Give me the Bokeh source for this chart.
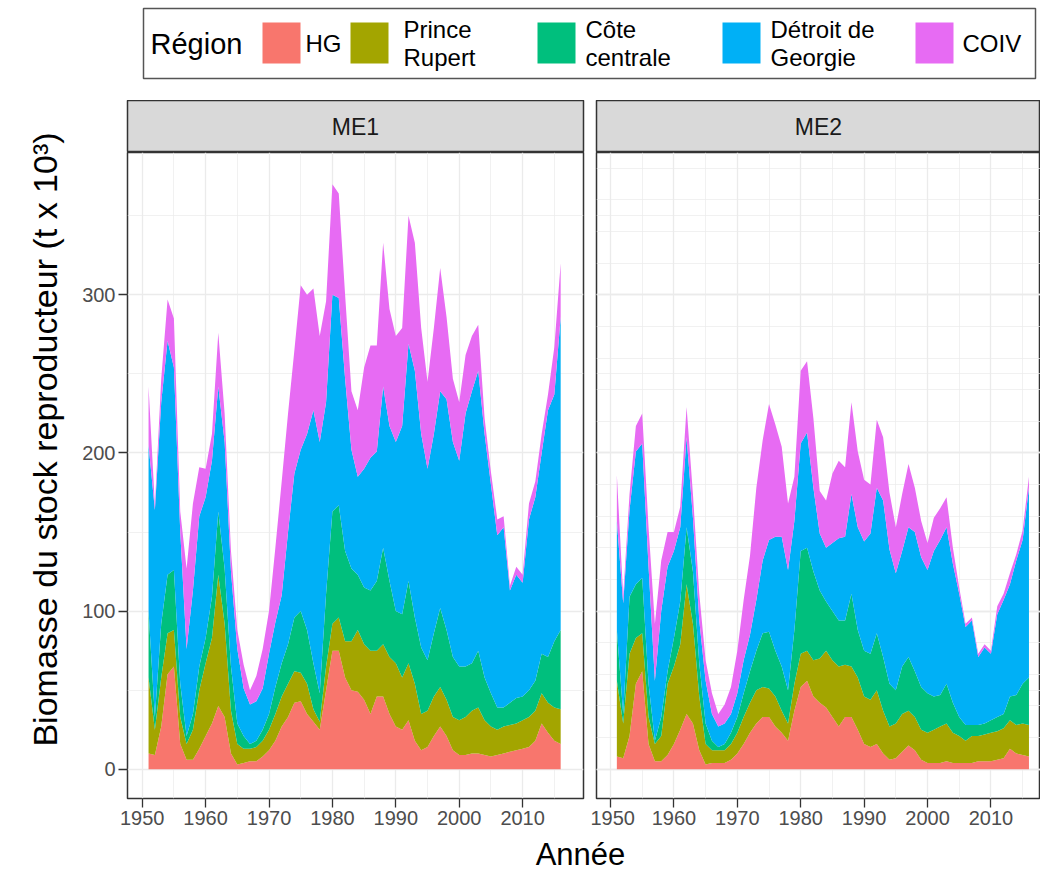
import math
from bokeh.plotting import figure
from bokeh.layouts import row, column
from bokeh.models import ColumnDataSource, Range1d, FixedTicker, Grid
from bokeh.core.properties import value
from bokeh.embed import file_html
from bokeh.resources import INLINE

# ---------------- data ----------------
years = list(range(1951, 2017))
regions = ["HG", "Prince Rupert", "Côte centrale", "Détroit de Georgie", "COIV"]
legend_labels = ["HG", "Prince\nRupert", "Côte\ncentrale", "Détroit de\nGeorgie", "COIV"]
colors = ["#F8766D", "#A3A500", "#00BF7D", "#00B0F6", "#E76BF3"]
panels = ["ME1", "ME2"]
x_ticks = [1950, 1960, 1970, 1980, 1990, 2000, 2010]
x_minor = [1955, 1965, 1975, 1985, 1995, 2005, 2015]
y_ticks = [0, 100, 200, 300]
y_minor = [50, 150, 250, 350]

# ME1 (t x 10^3)
hg_me1 = [10, 9, 27, 60, 65, 16, 6, 6, 13, 21,
          29, 40, 33, 10, 3, 4, 5, 5, 8, 12,
          18, 27, 33, 42, 43, 35, 30, 25, 50, 75,
          75, 58, 50, 49, 44, 35, 46, 46, 35, 27,
          25, 31, 18, 12, 14, 21, 27, 21, 12, 9,
          9, 10, 10, 9, 8, 9, 10, 11, 12, 13,
          14, 18, 29, 23, 18, 16]
pr_me1 = [48, 16, 31, 26, 23, 17, 10, 19, 37, 46,
          54, 83, 59, 27, 13, 9, 8, 9, 10, 13,
          17, 19, 21, 20, 18, 19, 8, 5, 15, 17,
          21, 23, 31, 39, 35, 40, 29, 33, 36, 40,
          33, 36, 36, 23, 23, 25, 25, 23, 21, 22,
          24, 27, 29, 22, 19, 16, 17, 17, 17, 18,
          19, 19, 19, 19, 21, 22]
cc_me1 = [42, 8, 34, 37, 38, 21, 5, 10, 15, 16,
          26, 40, 35, 28, 13, 8, 3, 4, 7, 10,
          17, 21, 25, 34, 39, 34, 29, 18, 46, 71,
          71, 57, 46, 35, 36, 38, 44, 61, 48, 33,
          40, 52, 42, 42, 32, 40, 50, 44, 38, 34,
          32, 30, 36, 27, 21, 14, 12, 14, 16, 15,
          17, 19, 25, 29, 42, 50]
dg_me1 = [105, 131, 140, 148, 128, 96, 55, 78, 95, 89,
          86, 79, 80, 60, 47, 30, 25, 25, 26, 38,
          41, 43, 71, 91, 102, 124, 160, 159, 121, 137,
          131, 109, 75, 62, 75, 84, 82, 102, 98, 107,
          119, 150, 156, 135, 121, 126, 137, 146, 136, 130,
          160, 172, 177, 154, 132, 109, 114, 71, 78, 72,
          108, 116, 127, 156, 156, 198]
coiv_me1 = [37, 3, 15, 26, 31, 13, 51, 55, 31, 18,
            17, 34, 18, 13, 12, 15, 9, 16, 25, 27,
            47, 72, 75, 78, 104, 88, 77, 67, 64, 70,
            66, 53, 37, 42, 64, 71, 67, 91, 74, 67,
            62, 81, 81, 67, 55, 67, 78, 52, 40, 37,
            37, 35, 29, 10, 8, 10, 7, 3, 5, 5,
            10, 10, 12, 10, 30, 34]

# ME2 (t x 10^3)
hg_me2 = [8, 7, 21, 54, 62, 16, 5, 5, 9, 16,
          25, 35, 29, 12, 3, 4, 4, 4, 6, 10,
          16, 23, 29, 33, 33, 27, 23, 18, 37, 52,
          56, 46, 42, 39, 33, 27, 33, 33, 25, 16,
          14, 16, 10, 6, 7, 11, 15, 12, 6, 4,
          4, 4, 5, 4, 4, 4, 4, 5, 5, 5,
          6, 7, 13, 10, 9, 8]
pr_me2 = [48, 22, 52, 29, 24, 17, 11, 16, 45, 49,
          54, 82, 63, 34, 13, 8, 8, 8, 10, 13,
          17, 19, 21, 19, 18, 19, 14, 11, 17, 21,
          19, 23, 28, 36, 36, 38, 33, 32, 33, 30,
          30, 34, 27, 21, 22, 24, 22, 21, 19, 19,
          21, 23, 24, 19, 17, 14, 17, 16, 17, 18,
          18, 19, 18, 18, 20, 20]
cc_me2 = [32, 6, 36, 34, 35, 21, 2, 12, 8, 18,
          27, 36, 33, 21, 13, 6, 2, 4, 7, 10,
          15, 20, 25, 34, 36, 29, 28, 21, 34, 65,
          65, 56, 43, 31, 31, 29, 28, 46, 30, 29,
          29, 36, 34, 27, 21, 30, 34, 29, 27, 25,
          21, 20, 25, 19, 12, 10, 7, 7, 7, 8,
          9, 9, 15, 19, 25, 30]
dg_me2 = [69, 70, 55, 84, 85, 74, 38, 67, 66, 55,
          47, 57, 34, 27, 27, 17, 13, 13, 12, 15,
          21, 23, 32, 46, 58, 72, 82, 76, 69, 68,
          73, 53, 36, 34, 43, 52, 53, 63, 65, 69,
          76, 92, 99, 85, 74, 73, 82, 88, 82, 78,
          92, 98, 99, 88, 78, 62, 66, 43, 48, 42,
          65, 72, 71, 85, 91, 120]
coiv_me2 = [29, 5, 10, 16, 19, 25, 36, 32, 22, 12,
            13, 19, 15, 17, 13, 13, 8, 12, 17, 27,
            38, 50, 71, 76, 86, 71, 57, 42, 28, 46,
            45, 44, 27, 30, 44, 49, 44, 58, 48, 39,
            31, 43, 40, 36, 29, 36, 40, 28, 23, 17,
            21, 20, 19, 10, 4, 2, 2, 2, 2, 2,
            5, 4, 7, 4, 6, 7]

series = {
    "ME1": [hg_me1, pr_me1, cc_me1, dg_me1, coiv_me1],
    "ME2": [hg_me2, pr_me2, cc_me2, dg_me2, coiv_me2],
}

# ---------------- style ----------------
FONT = "Liberation Sans"
GRID = "#EBEBEB"
DARK = "#333333"
PANEL_H = 676
STRIP_H = 52
Y_RANGE = (-18.5, 390)


def bare(width, height, xr, yr):
    f = figure(width=width, height=height, x_range=Range1d(*xr), y_range=Range1d(*yr),
               output_backend="svg", toolbar_location=None,
               x_axis_location=None, y_axis_location=None,
               min_border=0, outline_line_color=None)
    f.grid.visible = False
    return f


def panel(name, width, left, right, xr, show_y):
    data = {"year": years}
    for r, vals in zip(regions, series[name]):
        data[r] = vals
    src = ColumnDataSource(data)
    p = figure(width=width, height=PANEL_H, x_range=Range1d(*xr), y_range=Range1d(*Y_RANGE),
               output_backend="svg", toolbar_location=None,
               x_axis_location="below", y_axis_location="left" if show_y else None,
               min_border_left=left, min_border_right=right,
               min_border_top=0, min_border_bottom=30)
    p.varea_stack(stackers=regions, x="year", color=colors, source=src)
    p.outline_line_color = DARK
    p.outline_line_width = 1.5
    p.background_fill_color = "white"

    p.xaxis.ticker = FixedTicker(ticks=x_ticks, minor_ticks=x_minor)
    axes = [p.xaxis]
    if show_y:
        p.yaxis.ticker = FixedTicker(ticks=y_ticks, minor_ticks=y_minor)
        axes.append(p.yaxis)
    else:
        p.add_layout(Grid(dimension=1, ticker=FixedTicker(ticks=y_ticks, minor_ticks=y_minor)), "center")
    for ax in axes:
        ax.axis_line_color = None
        ax.major_tick_line_color = DARK
        ax.major_tick_line_width = 1.3
        ax.major_tick_out = 9
        ax.major_tick_in = 0
        ax.minor_tick_line_color = None
        ax.major_label_text_font = FONT
        ax.major_label_text_font_size = "20px"
        ax.major_label_text_color = "#4D4D4D"
        ax.major_label_standoff = 3
    for g in p.grid:
        g.grid_line_color = GRID
        g.grid_line_width = 1.3
        g.minor_grid_line_color = GRID
        g.minor_grid_line_width = 0.7
        g.level = "underlay"

    strip = bare(width, STRIP_H, (0, 1), (0, 1))
    strip.min_border_left = left
    strip.min_border_right = right
    strip.background_fill_color = "#D9D9D9"
    strip.outline_line_color = DARK
    strip.outline_line_width = 1.5
    strip.text(x=[0.5], y=[0.5], text=[name], text_align="center", text_baseline="middle",
               text_font=value(FONT), text_font_size="23px", text_color="#1A1A1A")
    return column(strip, p)


# panel 1: frame x 127..583 ; panel 2: frame x 596..1040
col1 = panel("ME1", 525, 62, 7, (1947.68, 2019.6), True)
col2 = panel("ME2", 450, 6, 0, (1947.79, 2017.82), False)

# y-axis title
ylab = bare(65, STRIP_H + PANEL_H, (0, 65), (STRIP_H + PANEL_H, 0))
ylab.text(x=[44], y=[339], text=["Biomasse du stock reproducteur (t x 10³)"], angle=math.pi / 2,
          text_align="center", text_baseline="middle", text_font=value(FONT),
          text_font_size="34px", text_color="black")

# x-axis title
xlab = bare(1040, 47, (0, 1040), (47, 0))
xlab.text(x=[580], y=[26], text=["Année"], text_align="center", text_baseline="middle",
          text_font=value(FONT), text_font_size="31px", text_color="black")

# legend
leg = bare(1040, 100, (0, 1040), (100, 0))
leg.quad(left=[143], right=[1035], top=[8], bottom=[78], fill_color="white",
         line_color="#555555", line_width=1.5)
leg.text(x=[150], y=[43], text=["Région"], text_align="left", text_baseline="middle",
         text_font=value(FONT), text_font_size="29px", text_color="black")
sw_left = [262, 350, 537, 722, 915]
sw_w = 38
label_x = [305, 403, 585, 770, 962]
leg.quad(left=sw_left, right=[v + sw_w for v in sw_left], top=[22] * 5, bottom=[63] * 5,
         fill_color=colors, line_color=None)
leg.text(x=label_x, y=[43] * 5, text=legend_labels,
         text_align="left", text_baseline="middle", text_font=value(FONT),
         text_font_size="24px", text_color="black", text_line_height=1.02)

layout = column(leg, row(ylab, col1, col2), xlab)

open("out.html", "w").write(file_html(layout, INLINE))
